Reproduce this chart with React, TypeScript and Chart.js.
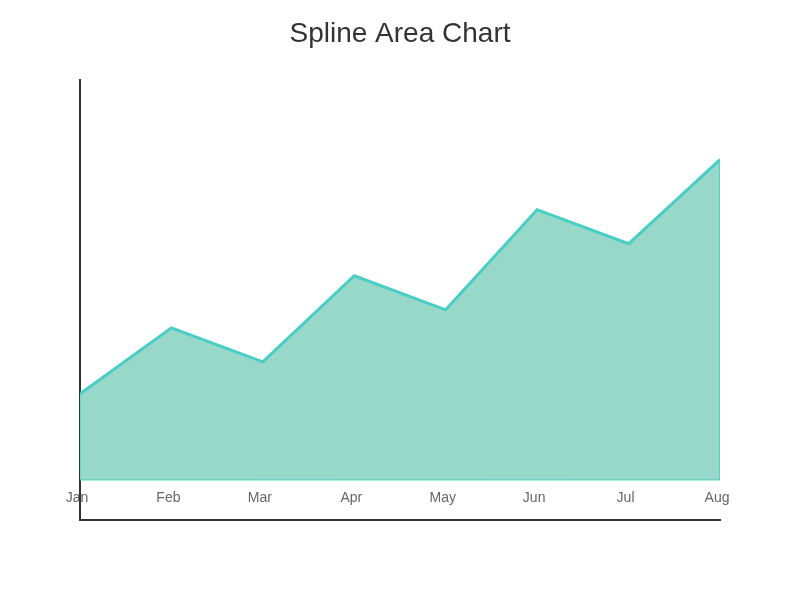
import React, { useEffect, useRef } from 'react';
import { Chart, registerables } from 'chart.js';

Chart.register(...registerables);

const months = ['Jan', 'Feb', 'Mar', 'Apr', 'May', 'Jun', 'Jul', 'Aug'];
const values = [21.5, 38, 29.5, 51, 42.5, 67.5, 59, 80];

const lineColor = '#48cec5';
const areaColor = '#98d8c8';

const App: React.FC = () => {
  const canvasRef = useRef<HTMLCanvasElement>(null);

  useEffect(() => {
    if (!canvasRef.current) return;

    const last = months.length - 1;
    const top = values.map((v, i) => ({ x: i, y: v }));
    // closed outline of the area, so the sides and the base get a thin border too
    const outline = [{ x: 0, y: 0 }, ...top, { x: last, y: 0 }, { x: 0, y: 0 }];

    const chart = new Chart(canvasRef.current, {
      type: 'line',
      data: {
        datasets: [
          {
            data: outline,
            borderColor: lineColor,
            borderWidth: 1,
            pointRadius: 0,
            tension: 0,
            fill: false,
          },
          {
            data: top,
            borderColor: lineColor,
            borderWidth: 3,
            backgroundColor: areaColor,
            pointRadius: 0,
            tension: 0,
            fill: 'origin',
          },
        ],
      },
      options: {
        animation: false,
        responsive: true,
        maintainAspectRatio: false,
        layout: { padding: { left: 80, right: 80, top: 0, bottom: 80 } },
        plugins: {
          legend: { display: false },
          tooltip: { enabled: false },
          title: {
            display: true,
            text: 'Spline Area Chart',
            color: '#333',
            font: { family: 'Liberation Sans', size: 28, weight: 'normal' },
            padding: { top: 17, bottom: 29 },
          },
        },
        scales: {
          x: {
            type: 'linear',
            position: { y: 0 },
            min: 0,
            max: last,
            grid: { display: false, drawTicks: false },
            border: { display: false },
            ticks: {
              stepSize: 1,
              padding: 10,
              labelOffset: -3,
              color: '#666',
              font: { family: 'Liberation Sans', size: 14 },
              callback: (v) => months[v as number],
            },
          },
          x2: {
            type: 'linear',
            position: 'bottom',
            grid: { display: false, drawTicks: false },
            border: { display: true, color: '#333', width: 2 },
            ticks: { display: false },
            afterFit: (scale) => {
              scale.height = 0;
            },
          },
          y: {
            min: -10,
            max: 100,
            grid: { display: false, drawTicks: false },
            border: { display: true, color: '#333', width: 2 },
            ticks: { display: false },
            afterFit: (scale) => {
              scale.width = 0;
            },
          },
        },
      },
    });

    return () => {
      chart.destroy();
    };
  }, []);

  return (
    <div style={{ position: 'absolute', left: 0, top: 0, width: 800, height: 600 }}>
      <canvas ref={canvasRef}></canvas>
    </div>
  );
};

export default App;
